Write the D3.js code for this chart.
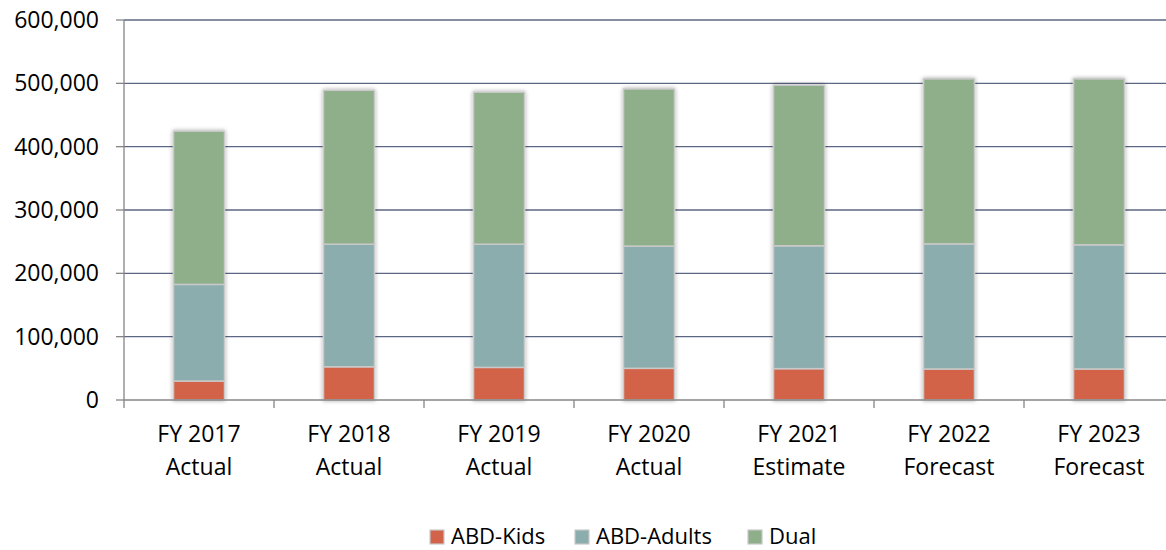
<!DOCTYPE html>
<html>
<head>
<meta charset="utf-8">
<script src="https://cdn.jsdelivr.net/npm/d3@7"></script>
<style>
  html, body { margin: 0; padding: 0; background: #ffffff; }
  svg { display: block; }
  text { font-family: "Open Sans", sans-serif; fill: #000; }
</style>
</head>
<body>
<svg id="chart" width="1166" height="550"></svg>
<script>
const categoriesLine1 = ["FY 2017", "FY 2018", "FY 2019", "FY 2020", "FY 2021", "FY 2022", "FY 2023"];
const categoriesLine2 = ["Actual", "Actual", "Actual", "Actual", "Estimate", "Forecast", "Forecast"];
const seriesNames = ["ABD-Kids", "ABD-Adults", "Dual"];
const abdKids   = [30000, 52500, 51500, 50000, 49500, 49000, 49000];
const abdAdults = [152500, 193500, 194500, 193000, 194000, 197500, 196000];
const dual      = [242000, 243000, 240000, 248000, 253500, 260500, 262000];
const yTicks = [0, 100000, 200000, 300000, 400000, 500000, 600000];
const colors = ["#D2634A", "#8CADAD", "#8FAF8A"];

const svg = d3.select("#chart");
const margin = { left: 124, top: 20, bottom: 150 };
const plotW = 1050;
const H = 550;

const x = d3.scaleBand().domain(categoriesLine1).range([margin.left, margin.left + plotW]).paddingInner(0.66).paddingOuter(0.33);
const y = d3.scaleLinear().domain([0, 600000]).range([H - margin.bottom, margin.top]);

// gridlines
svg.append("g")
  .selectAll("line")
  .data(yTicks.filter(d => d > 0))
  .join("line")
  .attr("x1", margin.left).attr("x2", margin.left + plotW)
  .attr("y1", d => y(d)).attr("y2", d => y(d))
  .attr("stroke", "#5C6785").attr("stroke-width", 1.4);

// shadow filter
const defs = svg.append("defs");
const f = defs.append("filter").attr("id", "shadow").attr("x", "-30%").attr("y", "-10%").attr("width", "160%").attr("height", "120%");
f.append("feGaussianBlur").attr("in", "SourceAlpha").attr("stdDeviation", 2.2).attr("result", "blur");
f.append("feOffset").attr("in", "blur").attr("dx", 0).attr("dy", 0).attr("result", "off");
f.append("feComponentTransfer").attr("in", "off").attr("result", "sh")
  .append("feFuncA").attr("type", "linear").attr("slope", 0.35);
const merge = f.append("feMerge");
merge.append("feMergeNode").attr("in", "sh");
merge.append("feMergeNode").attr("in", "SourceGraphic");

// stacked data
const rows = categoriesLine1.map((c, i) => ({ cat: c, "ABD-Kids": abdKids[i], "ABD-Adults": abdAdults[i], "Dual": dual[i] }));
const stacked = d3.stack().keys(seriesNames)(rows);

const barsG = svg.append("g").attr("filter", "url(#shadow)");
stacked.forEach((layer, li) => {
  barsG.append("g")
    .selectAll("rect")
    .data(layer)
    .join("rect")
    .attr("x", d => x(d.data.cat))
    .attr("width", x.bandwidth())
    .attr("y", d => y(d[1]))
    .attr("height", d => y(d[0]) - y(d[1]))
    .attr("fill", colors[li])
    .attr("stroke", "#C9C9C9")
    .attr("stroke-width", 1.5);
});

// axes lines
const axisColor = "#868686";
svg.append("line")
  .attr("x1", margin.left).attr("x2", margin.left)
  .attr("y1", y(600000)).attr("y2", y(0))
  .attr("stroke", axisColor).attr("stroke-width", 1.3);
svg.append("line")
  .attr("x1", margin.left).attr("x2", margin.left + plotW)
  .attr("y1", y(0)).attr("y2", y(0))
  .attr("stroke", axisColor).attr("stroke-width", 1.3);

// y ticks
const fmt = d3.format(",");
svg.append("g").selectAll("line").data(yTicks).join("line")
  .attr("x1", margin.left - 8).attr("x2", margin.left)
  .attr("y1", d => y(d)).attr("y2", d => y(d))
  .attr("stroke", axisColor).attr("stroke-width", 1.3);
svg.append("g").selectAll("text").data(yTicks).join("text")
  .attr("x", 99).attr("y", d => y(d))
  .attr("dy", "0.35em")
  .attr("text-anchor", "end")
  .attr("font-size", 23)
  .text(d => fmt(d));

// x ticks (between categories)
const step = x.step();
const xTickPos = d3.range(categoriesLine1.length + 1).map(i => margin.left + i * step);
svg.append("g").selectAll("line").data(xTickPos).join("line")
  .attr("x1", d => d).attr("x2", d => d)
  .attr("y1", y(0)).attr("y2", y(0) + 8)
  .attr("stroke", axisColor).attr("stroke-width", 1.3);

// category labels
const lab = svg.append("g").selectAll("text").data(categoriesLine1).join("text")
  .attr("text-anchor", "middle")
  .attr("font-size", 23)
  .attr("x", d => x(d) + x.bandwidth() / 2);
lab.append("tspan").attr("x", d => x(d) + x.bandwidth() / 2).attr("y", 442).text(d => d);
lab.append("tspan").attr("x", d => x(d) + x.bandwidth() / 2).attr("y", 475).text((d, i) => categoriesLine2[i]);

// legend
const legendX = [430, 575, 748];
const lg = svg.append("g").selectAll("g").data(seriesNames).join("g")
  .attr("transform", (d, i) => `translate(${legendX[i]},0)`);
lg.append("rect")
  .attr("x", 0).attr("y", 530).attr("width", 14).attr("height", 14)
  .attr("fill", (d, i) => colors[i])
  .attr("stroke", "#C9C9C9").attr("stroke-width", 1.2);
lg.append("text")
  .attr("x", 21).attr("y", 544)
  .attr("font-size", 22)
  .text(d => d);
</script>
</body>
</html>
